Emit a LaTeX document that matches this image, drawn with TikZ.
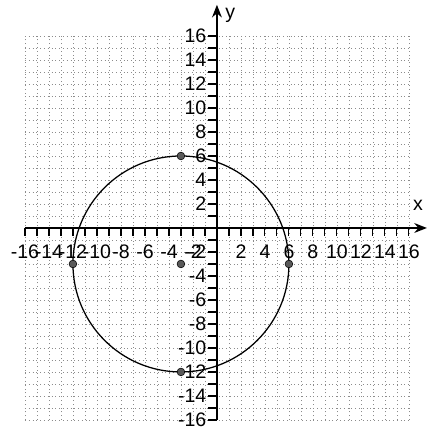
\documentclass[tikz,border=0pt]{standalone}
\usepackage{fontspec}
\setmainfont{Liberation Sans}
\usetikzlibrary{arrows.meta, positioning}

\begin{document}
\begin{tikzpicture}[x=0.3cm, y=0.3cm,
  gridline/.style={black!45, line width=0.4pt, dash pattern=on 0.7pt off 2pt},
  axis/.style={-{Stealth[length=9pt, width=7pt]}, line width=1pt},
  tickmark/.style={line width=0.8pt},
  num/.style={font=\fontsize{13.9}{16}\selectfont, inner sep=1pt},
  curve/.style={line width=0.9pt},
  ptdot/.style={circle, draw=black, fill=black!65, inner sep=0pt, minimum size=5.5pt}
]
\useasboundingbox (-18.08,-17.17) rectangle (17.75,19);

% grid
\foreach \i in {-16,...,16} {
  \draw[gridline] (\i,-16) -- (\i,16);
  \draw[gridline] (-16,\i) -- (16,\i);
}

% axes
\coordinate (xstart) at (-16,0);
\coordinate (xend) at (17.5,0);
\coordinate (ystart) at (0,-16);
\coordinate (yend) at (0,18.6);
\draw[axis] (xstart) -- (xend);
\draw[axis] (ystart) -- (yend);
\node[num] (xname) at (16.75,1.9) {x};
\node[num] (yname) at (1.1,17.7) {y};

\foreach \i in {-16,...,16} {
  \draw[tickmark] (\i,0) -- (\i,-0.65);
  \draw[tickmark] (0,\i) -- (-0.75,\i);
}
\foreach \i in {-16,-14,-12,-10,-8,-6,-4,-2,2,4,6,8,10,12,14,16} {
  \node[num, anchor=north] (xlab\i) at (\i,-1.25) {\i};
  \node[num, anchor=east] (ylab\i) at (-0.75,\i) {\i};
}

% circle and its points
\coordinate (ctr) at (-3,-3);
\draw[curve] (ctr) circle (9);
\node[ptdot] (ctrdot) at (ctr) {};
\node[ptdot] (top) at (-3,6) {};
\node[ptdot] (left) at (-12,-3) {};
\node[ptdot] (right) at (6,-3) {};
\node[ptdot] (bottom) at (-3,-12) {};
\end{tikzpicture}
\end{document}
